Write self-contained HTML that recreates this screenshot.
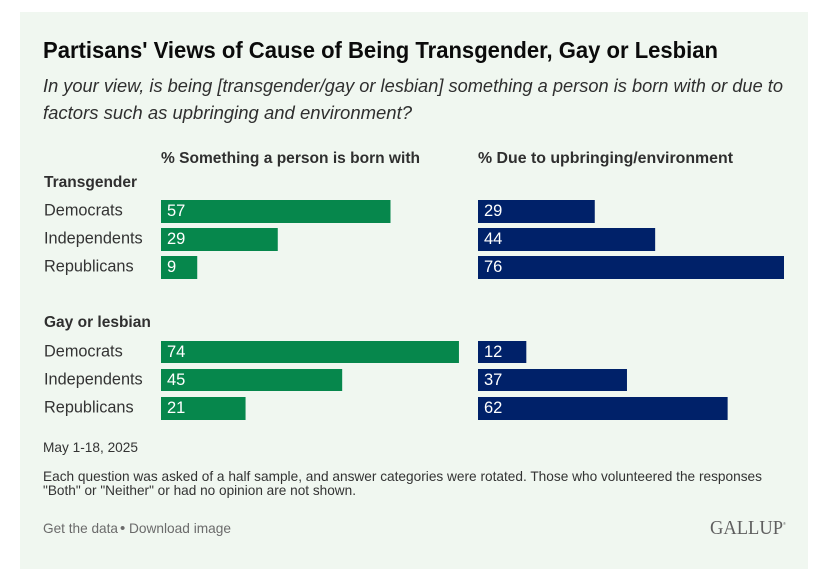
<!DOCTYPE html>
<html>
<head>
<meta charset="utf-8">
<title>Partisans' Views of Cause of Being Transgender, Gay or Lesbian</title>
<style>
html,body{margin:0;padding:0;background:#fff;width:833px;height:582px;overflow:hidden}
svg{display:block;font-family:"Liberation Sans",sans-serif}
</style>
</head>
<body>
<svg id="chart" xmlns="http://www.w3.org/2000/svg" width="833" height="582" viewBox="0 0 833 582">
<rect x="20" y="12" width="788" height="557" fill="#f0f7f0"/>
<text x="43" y="58" font-size="23" font-weight="700" fill="#0b0b0b" textLength="675" lengthAdjust="spacingAndGlyphs">Partisans' Views of Cause of Being Transgender, Gay or Lesbian</text>
<text x="43" y="92" font-size="18.5" font-style="italic" fill="#2f2f2f" textLength="740" lengthAdjust="spacingAndGlyphs">In your view, is being [transgender/gay or lesbian] something a person is born with or due to</text>
<text x="43" y="119" font-size="18.5" font-style="italic" fill="#2f2f2f" textLength="369" lengthAdjust="spacingAndGlyphs">factors such as upbringing and environment?</text>
<text x="161" y="163" font-size="16" font-weight="700" fill="#2f2f2f" textLength="259" lengthAdjust="spacingAndGlyphs">% Something a person is born with</text>
<text x="478" y="163" font-size="16" font-weight="700" fill="#2f2f2f" textLength="255" lengthAdjust="spacingAndGlyphs">% Due to upbringing/environment</text>
<g id="marks"></g>
<text x="43" y="452" font-size="14" fill="#333" textLength="95" lengthAdjust="spacingAndGlyphs">May 1-18, 2025</text>
<text x="43" y="481" font-size="14" fill="#333" textLength="719" lengthAdjust="spacingAndGlyphs">Each question was asked of a half sample, and answer categories were rotated. Those who volunteered the responses</text>
<text x="43" y="495" font-size="14" fill="#333" textLength="313" lengthAdjust="spacingAndGlyphs">"Both" or "Neither" or had no opinion are not shown.</text>
<text x="43" y="533" font-size="14" fill="#6b6b6b" textLength="75" lengthAdjust="spacingAndGlyphs">Get the data</text>
<text x="120" y="533" font-size="15" fill="#6b6b6b">•</text>
<text x="129" y="533" font-size="14" fill="#6b6b6b" textLength="102" lengthAdjust="spacingAndGlyphs">Download image</text>
<text x="710" y="534" font-family="'Liberation Serif',serif" font-size="20" fill="#5f5f5f" textLength="73" lengthAdjust="spacingAndGlyphs">GALLUP</text>
<text x="783" y="525" font-size="4" fill="#5f5f5f">®</text>
</svg>
<script>
const groups = ['Transgender', 'Gay or lesbian'];
const parties = ['Democrats', 'Independents', 'Republicans'];
const bornWith = [[57, 29, 9], [74, 45, 21]];
const upbringing = [[29, 44, 76], [12, 37, 62]];

const svgNS = 'http://www.w3.org/2000/svg';
const marks = document.getElementById('marks');
const unit = 306 / 76;
const xBorn = v => 161 + v * unit;
const xUp = v => 478 + v * unit;
const groupTop = g => g === 0 ? 200 : 341;
const rowY = (g, r) => groupTop(g) + r * 28;
const rowH = (g, r) => (g === 1 && r < 2) ? 22 : 23;

function mk(tag, attrs, txt) {
  const el = document.createElementNS(svgNS, tag);
  for (const k in attrs) el.setAttribute(k, attrs[k]);
  if (txt !== undefined) el.textContent = txt;
  marks.appendChild(el);
  return el;
}
function bar(x0, x1, y, h, color, value) {
  const r = mk('rect', {x: x0, y: y, width: x1 - x0, height: h, fill: color});
  
  
  const t = mk('text', {x: x0 + 6, y: y + 16, 'font-size': 16.5, fill: '#fff'}, value);
  
  
}
groups.forEach((g, gi) => {
  const gt = mk('text', {x: 44, y: gi === 0 ? 187 : 327, 'font-size': 15.5, 'font-weight': 700, fill: '#2f2f2f'}, g);
  
  
  parties.forEach((p, ri) => {
    const y = rowY(gi, ri);
    const lt = mk('text', {x: 44, y: y + 15.5, 'font-size': 16.3, fill: '#333'}, p);
    
    
    bar(xBorn(0), xBorn(bornWith[gi][ri]), y, rowH(gi, ri), '#06874c', bornWith[gi][ri]);
    bar(xUp(0), xUp(upbringing[gi][ri]), y, rowH(gi, ri), '#002169', upbringing[gi][ri]);
  });
});
</script>
</body>
</html>
